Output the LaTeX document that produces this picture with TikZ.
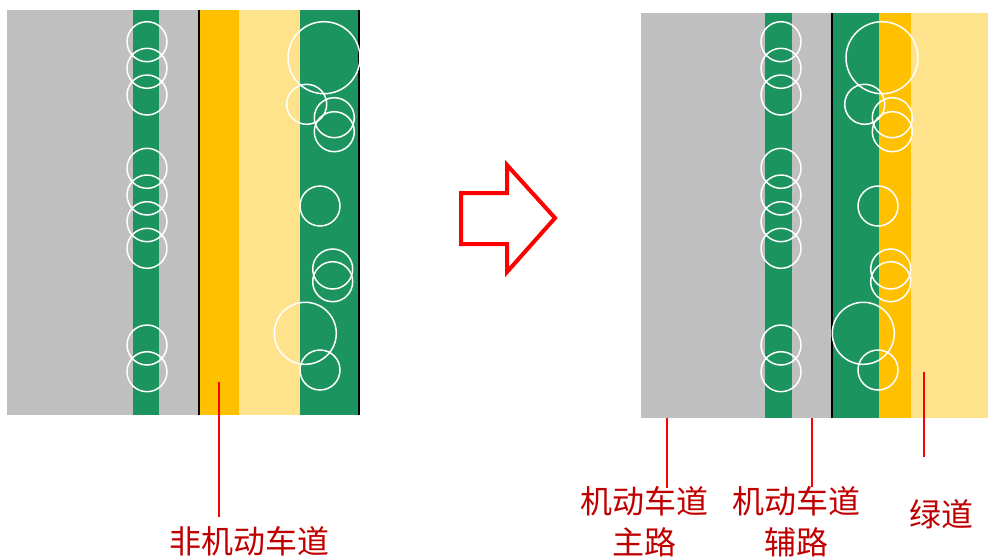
\documentclass[tikz,border=0pt]{standalone}
\usepackage{fontspec}
\newfontfamily\cjk{Noto Sans CJK SC}
\usetikzlibrary{%
  positioning
 ,calc
}
\definecolor{road}{HTML}{BFBFBF}
\definecolor{belt}{HTML}{1B9460}
\definecolor{bike}{HTML}{FFC000}
\definecolor{walk}{HTML}{FFE38C}
\definecolor{tag}{HTML}{C00000}
\tikzstyle{plan}=[x=1pt,y=-1pt]
\tikzstyle{ring}=[draw=white,line width=1.5pt]
\tikzstyle{edge}=[draw=black,line width=2pt]
\tikzstyle{lead}=[draw=red,line width=2pt]
\tikzstyle{lbl}=[text=tag,font=\cjk\fontsize{32}{41}\selectfont,align=center,inner sep=0pt]
\tikzstyle{turn}=[draw=red,fill=white,line width=4pt,line join=miter]

\begin{document}
\begin{tikzpicture}[plan]
      \useasboundingbox (0,0) rectangle (988,558);
      % before
      \fill[road] (7,10) rectangle (199,415);
      \fill[belt] (133,10) rectangle (159,415);
      \fill[bike] (199,10) rectangle (239,415);
      \fill[walk] (239,10) rectangle (300,415);
      \fill[belt] (300,10) rectangle (359,415);
      \draw[edge] (199,10) -- (199,415);
      \draw[edge] (359,10) -- (359,415);
      % after
      \fill[road] (641,13) rectangle (832,418);
      \fill[belt] (765,13) rectangle (792,418);
      \fill[belt] (832,13) rectangle (879,418);
      \fill[bike] (879,13) rectangle (911,418);
      \fill[walk] (911,13) rectangle (988,418);
      \draw[edge] (832,13) -- (832,418);
      % trees
      \foreach \y in {41.7,68.3,95,168.3,195,221.7,248.3,345,371.7}{
        \draw[ring] (147,\y) circle (20);
        \draw[ring] (781,\y) circle (20);
      }
      \foreach \x/\y/\r in {324/57.7/36,306.7/104.3/20,334.3/117.7/20,334.3/131.7/20,
          320/206/20,332.7/269/20,332.7/281.7/20,305.3/333.3/31,320/370/20}{
        \draw[ring] (\x,\y) circle (\r);
        \draw[ring] (\x+558,\y) circle (\r);
      }
      \draw[turn] (461,193) -- (507,193) -- (507,165) -- (555,218) -- (507,272)
        -- (507,244) -- (461,244) -- cycle;
      % labels
      \node[lbl] (nmv) at (249,541) {非机动车道};
      \node[lbl] (main) at (644,522) {机动车道\\主路};
      \node[lbl] (side) at (796,522) {机动车道\\辅路};
      \node[lbl] (green) at (941,514) {绿道};
      \coordinate (p_0) at (219,382);
      \coordinate (p_1) at (667,418);
      \coordinate (p_2) at (812,418);
      \coordinate (p_3) at (924,372);
      \draw[lead] (p_0) -- (p_0 |- 0,517);
      \draw[lead] (p_1) -- (p_1 |- 0,488);
      \draw[lead] (p_2) -- (p_2 |- 0,487);
      \draw[lead] (p_3) -- (p_3 |- 0,457);
    \end{tikzpicture}
\end{document}
